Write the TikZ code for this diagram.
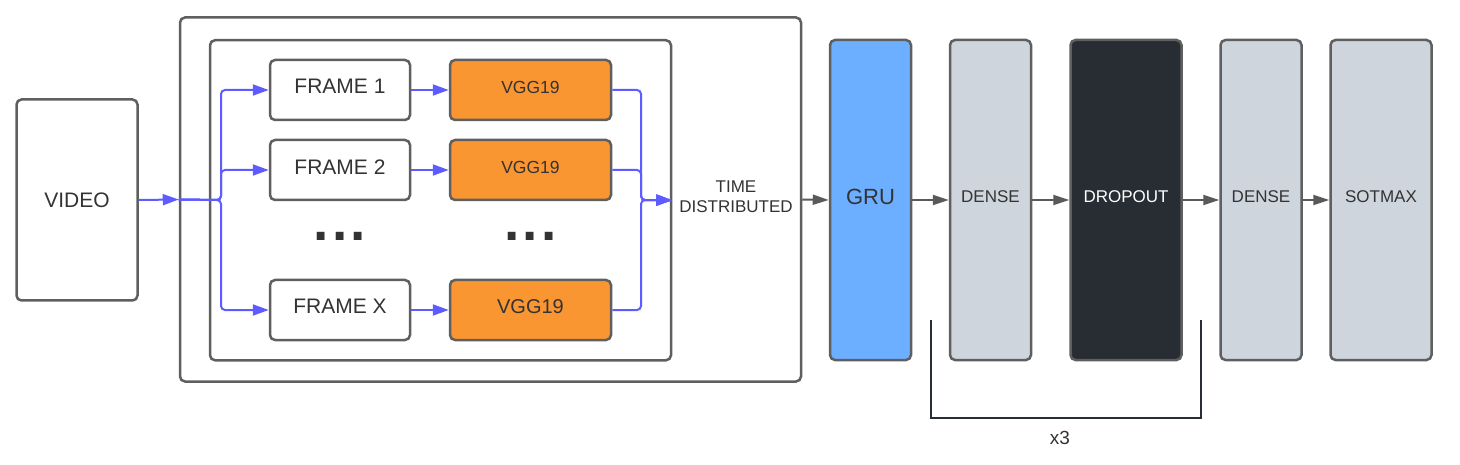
\documentclass[tikz,border=0pt]{standalone}
\usepackage{fontspec}
\setmainfont{Liberation Sans}
\usepackage{xcolor}
\usetikzlibrary{positioning,arrows.meta}

\definecolor{lineblue}{RGB}{94,92,255}
\definecolor{boxgray}{RGB}{95,95,95}
\definecolor{vggorange}{RGB}{250,150,50}
\definecolor{grublue}{RGB}{108,174,255}
\definecolor{densegray}{RGB}{207,213,221}
\definecolor{dropdark}{RGB}{40,44,51}
\definecolor{txt}{RGB}{51,51,51}
\definecolor{arrgray}{RGB}{90,90,90}

\begin{document}
\begin{tikzpicture}[x=1pt,y=-1pt,
  box/.style={draw=boxgray, line width=2.5pt, rounded corners=5pt, text=txt},
  frame/.style={box, fill=white, minimum width=140pt, minimum height=60pt, text depth=6.5pt, font=\fontsize{21}{24}\selectfont},
  vgg/.style={box, fill=vggorange, minimum width=161pt, minimum height=60pt, text depth=6pt, font=\fontsize{17.5}{20}\selectfont},
  layer/.style={box, minimum width=81pt, minimum height=320pt, text depth=6pt, font=\fontsize{17}{20}\selectfont},
  dots/.style={anchor=base, text=txt, font=\fontsize{55}{60}\selectfont\bfseries},
  flow/.style={draw=lineblue, line width=2pt, rounded corners=4pt, -{Triangle[length=16pt,width=11pt]}},
  pass/.style={draw=arrgray, line width=2pt, -{Triangle[length=16pt,width=10pt]}},
  bracket/.style={draw=dropdark, line width=2.5pt}]

  \useasboundingbox (0,0) rectangle (1460,465);

  \node[box, minimum width=121pt, minimum height=201pt, font=\fontsize{21}{24}\selectfont] (video) at (77,200) {VIDEO};
  \node[box, minimum width=621pt, minimum height=364pt] (outer) at (490.5,199.5) {};
  \node[box, minimum width=461pt, minimum height=320pt] (inner) at (440.5,200.25) {};

  \node[frame] (f1) at (340,90) {FRAME 1};
  \node[frame] (f2) at (340,170) {FRAME 2};
  \node[frame] (fx) at (340,310) {FRAME X};
  \node[vgg] (v1) at (530.5,90) {VGG19};
  \node[vgg] (v2) at (530.5,170) {VGG19};
  \node[vgg, font=\fontsize{20}{24}\selectfont] (vx) at (530.5,310) {VGG19};
  \node[dots] (d1) at (340,241) {.\kern3.2pt.\kern3.2pt.};
  \node[dots] (d2) at (530.5,241) {.\kern3.2pt.\kern3.2pt.};

  \coordinate (split) at (221,200);
  \coordinate (merge) at (641,200);

  \draw[flow] (video.east) -- (outer.west);
  \draw[flow] (outer.west) -- (split) |- (f1.west);
  \draw[flow] (outer.west) -- (split) |- (f2.west);
  \draw[flow] (outer.west) -- (split) |- (fx.west);
  \draw[flow] (f1) -- (v1);
  \draw[flow] (f2) -- (v2);
  \draw[flow] (fx) -- (vx);
  \draw[flow] (v1.east) -| (merge) -- (inner.east);
  \draw[flow] (v2.east) -| (merge) -- (inner.east);
  \draw[flow] (vx.east) -| (merge) -- (inner.east);

  \node[align=center, text=txt, font=\fontsize{17}{20}\selectfont] (tdist) at (736,197) {TIME\\DISTRIBUTED};

  \node[layer, fill=grublue, font=\fontsize{22}{24}\selectfont] (gru) at (870.5,200) {GRU};
  \node[layer, fill=densegray] (dense1) at (990.5,200) {DENSE};
  \node[layer, fill=dropdark, text=white, minimum width=111pt] (drop) at (1126,200) {DROPOUT};
  \node[layer, fill=densegray] (dense2) at (1261,200) {DENSE};
  \node[layer, fill=densegray, minimum width=101pt] (soft) at (1381,200) {SOTMAX};

  \draw[pass] (outer.east) -- (gru.west);
  \draw[pass] (gru) -- (dense1);
  \draw[pass] (dense1) -- (drop);
  \draw[pass] (drop) -- (dense2);
  \draw[pass] (dense2) -- (soft);

  \draw[bracket] (931,320) -- (931,418) -- (1201,418) -- (1201,320);
  \node[text=txt, font=\fontsize{19}{20}\selectfont] (rep) at (1060,438) {x3};
\end{tikzpicture}
\end{document}
